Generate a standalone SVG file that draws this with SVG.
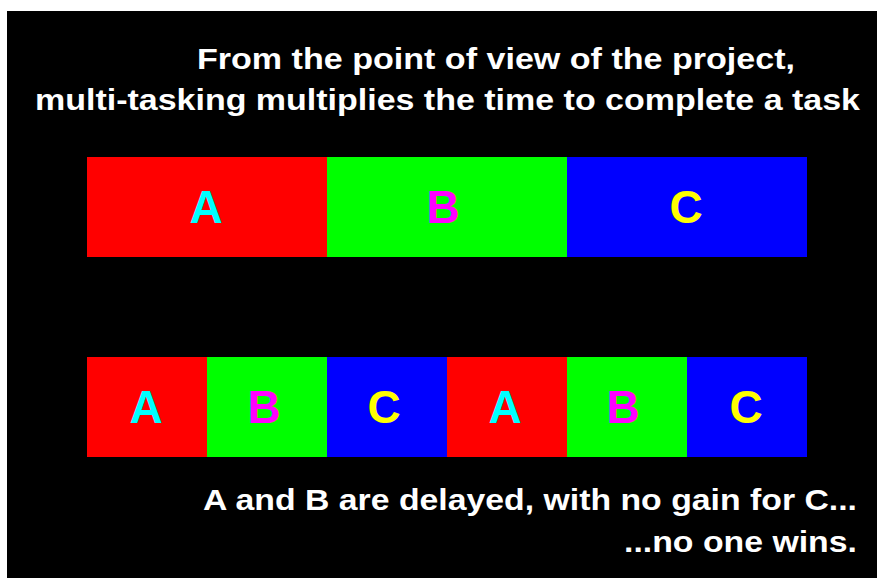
<svg xmlns="http://www.w3.org/2000/svg" width="877" height="578" viewBox="0 0 877 578">
<style>
.t{font-family:"Liberation Sans",Arial,sans-serif;font-weight:bold;fill:#fff;font-size:30px}
.l{font-family:"Liberation Sans",Arial,sans-serif;font-weight:bold;font-size:46px;text-anchor:middle}
.a{fill:#00ffff}.b{fill:#ff00ff}.c{fill:#ffff00}
</style>
<rect x="0" y="0" width="877" height="578" fill="#fff"/>
<rect x="7" y="11" width="870" height="567" fill="#000"/>
<g id="title">
<text class="t" x="197" y="69" textLength="598" lengthAdjust="spacingAndGlyphs">From the point of view of the project,</text>
<text class="t" x="35" y="110" textLength="825" lengthAdjust="spacingAndGlyphs">multi-tasking multiplies the time to complete a task</text>
</g>
<g id="top-A"><rect x="87" y="157" width="240" height="100" fill="#ff0000"/><text class="l a" x="206" y="223">A</text></g>
<g id="top-B"><rect x="327" y="157" width="240" height="100" fill="#00ff00"/><text class="l b" x="443" y="223">B</text></g>
<g id="top-C"><rect x="567" y="157" width="240" height="100" fill="#0000ff"/><text class="l c" x="686" y="223">C</text></g>
<g id="bot-A1"><rect x="87" y="357" width="120" height="100" fill="#ff0000"/><text class="l a" x="146" y="423">A</text></g>
<g id="bot-B1"><rect x="207" y="357" width="120" height="100" fill="#00ff00"/><text class="l b" x="264" y="423">B</text></g>
<g id="bot-C1"><rect x="327" y="357" width="120" height="100" fill="#0000ff"/><text class="l c" x="384" y="423">C</text></g>
<g id="bot-A2"><rect x="447" y="357" width="120" height="100" fill="#ff0000"/><text class="l a" x="505" y="423">A</text></g>
<g id="bot-B2"><rect x="567" y="357" width="120" height="100" fill="#00ff00"/><text class="l b" x="623" y="423">B</text></g>
<g id="bot-C2"><rect x="687" y="357" width="120" height="100" fill="#0000ff"/><text class="l c" x="746" y="423">C</text></g>
<g id="connectors"></g>
<g id="caption">
<text class="t" x="203" y="510" textLength="654" lengthAdjust="spacingAndGlyphs">A and B are delayed, with no gain for C...</text>
<text class="t" x="624" y="552" textLength="233" lengthAdjust="spacingAndGlyphs">...no one wins.</text>
</g>
</svg>
